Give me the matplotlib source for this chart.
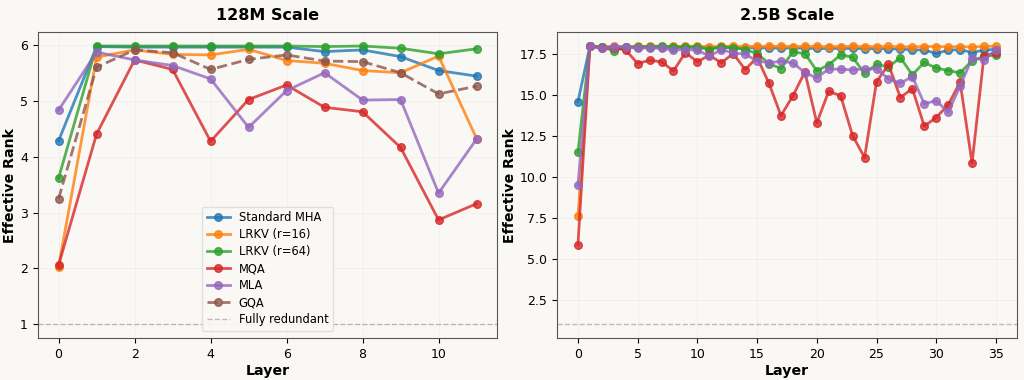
import matplotlib
matplotlib.use("Agg")
import matplotlib.pyplot as plt
import numpy as np

# 128M scale (12 layers)
mha_128 = [4.29, 5.98, 5.97, 5.97, 5.97, 5.97, 5.97, 5.89, 5.92, 5.80, 5.55, 5.45]
lrkv16_128 = [2.03, 5.79, 5.92, 5.84, 5.83, 5.93, 5.73, 5.68, 5.55, 5.51, 5.81, 4.33]
lrkv64_128 = [3.62, 5.99, 5.99, 5.99, 5.99, 5.99, 5.99, 5.98, 5.99, 5.95, 5.85, 5.94]
mqa_128 = [2.06, 4.41, 5.74, 5.57, 4.28, 5.03, 5.29, 4.89, 4.81, 4.17, 2.87, 3.16]
mla_128 = [4.84, 5.88, 5.74, 5.64, 5.40, 4.53, 5.19, 5.51, 5.02, 5.03, 3.35, 4.32]
gqa_128 = [3.25, 5.61, 5.92, 5.87, 5.57, 5.75, 5.83, 5.72, 5.71, 5.51, 5.13, 5.27]

# 2.5B scale (36 layers)
mha_25 = [14.6, 17.98, 17.93, 17.92, 17.93, 17.92, 17.93, 17.92, 17.9, 17.92, 17.9,
          17.9, 17.9, 17.9, 17.88, 17.9, 17.88, 17.87, 17.88, 17.87, 17.85, 17.85,
          17.86, 17.85, 17.84, 17.83, 17.84, 17.8, 17.78, 17.75, 17.55, 17.75,
          17.78, 17.6, 17.75, 17.8]
lrkv16_25 = [7.58, 17.98, 17.97, 17.98, 17.97, 17.98, 17.98, 17.97, 17.98, 17.98, 17.98,
             17.97, 17.98, 17.98, 17.97, 17.98, 17.98, 17.98, 17.97, 17.98, 17.98, 17.96,
             17.97, 17.98, 17.97, 17.96, 17.98, 17.96, 17.95, 17.97, 17.97, 17.95,
             17.97, 17.93, 17.98, 17.98]
lrkv64_25 = [11.51, 18.0, 17.95, 17.7, 17.95, 17.95, 17.97, 18.0, 17.95, 17.95, 17.95,
             17.78, 17.95, 17.9, 17.78, 17.54, 16.93, 16.62, 17.64, 17.54, 16.48, 16.85,
             17.46, 17.32, 16.32, 16.88, 16.72, 17.29, 16.24, 17.0, 16.65, 16.5,
             16.36, 17.1, 17.36, 17.46]
mqa_25 = [5.85, 18.0, 17.85, 17.9, 17.75, 16.93, 17.13, 17.03, 16.48, 17.6, 17.03,
          17.44, 16.97, 17.54, 16.56, 17.3, 15.71, 13.75, 14.95, 16.42, 13.3, 15.24,
          14.95, 12.52, 11.18, 15.81, 16.87, 14.85, 15.4, 13.1, 13.63, 14.4,
          15.79, 10.84, 17.4, 17.58]
mla_25 = [9.49, 18.0, 17.85, 17.95, 17.95, 17.85, 17.9, 17.85, 17.75, 17.78, 17.75,
          17.38, 17.78, 17.58, 17.5, 17.09, 16.97, 17.07, 16.97, 16.38, 16.05, 16.6,
          16.58, 16.54, 16.6, 16.6, 16.0, 15.73, 16.13, 14.47, 14.66, 13.95,
          15.55, 17.25, 17.16, 17.78]

series_128 = [("Standard MHA", mha_128, "#1f77b4", "-"),
              ("LRKV (r=16)", lrkv16_128, "#ff7f0e", "-"),
              ("LRKV (r=64)", lrkv64_128, "#2ca02c", "-"),
              ("MQA", mqa_128, "#d62728", "-"),
              ("MLA", mla_128, "#9467bd", "-"),
              ("GQA", gqa_128, "#8c564b", "--")]
series_25 = [("Standard MHA", mha_25, "#1f77b4", "-"),
             ("LRKV (r=16)", lrkv16_25, "#ff7f0e", "-"),
             ("LRKV (r=64)", lrkv64_25, "#2ca02c", "-"),
             ("MQA", mqa_25, "#d62728", "-"),
             ("MLA", mla_25, "#9467bd", "-")]

bg = "#faf8f5"
fig = plt.figure(figsize=(10.24, 3.8), dpi=100, facecolor=bg)
ax1 = fig.add_axes([0.0368, 0.1105, 0.449, 0.805])
ax2 = fig.add_axes([0.544, 0.1105, 0.449, 0.805])

for ax, series, title in [(ax1, series_128, "128M Scale"), (ax2, series_25, "2.5B Scale")]:
    ax.set_facecolor(bg)
    for name, vals, col, ls in series:
        ax.plot(np.arange(len(vals)), vals, color=col, linestyle=ls, marker="o",
                markersize=5.5, linewidth=2, alpha=0.8, label=name)
    ax.axhline(1, color="gray", linestyle="--", linewidth=1, alpha=0.5,
               label="Fully redundant")
    ax.set_title(title, fontsize=11.5, fontweight="bold", pad=9)
    ax.set_xlabel("Layer", fontsize=10.2, fontweight="bold", labelpad=2)
    ax.set_ylabel("Effective Rank", fontsize=10.2, fontweight="bold", labelpad=2)
    ax.tick_params(labelsize=9)
    ax.grid(True, color="#e6e6e6", linewidth=0.6, alpha=0.5)
    for s in ax.spines.values():
        s.set_color("#555555")

ax1.legend(loc="lower center", fontsize=8.3, framealpha=0.9, facecolor=bg,
           edgecolor="#dddddd", labelspacing=0.35, borderaxespad=0.6)

plt.savefig("out.png", dpi=100, facecolor=bg)
